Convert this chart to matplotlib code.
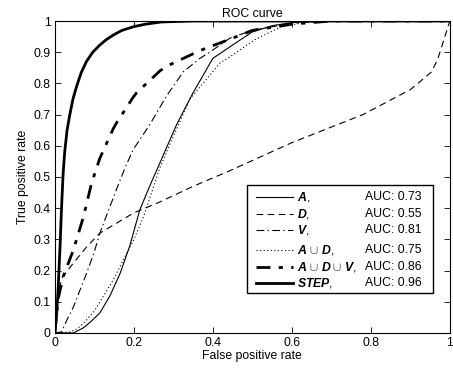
import matplotlib
matplotlib.use('Agg')
from matplotlib import pyplot as plt
from matplotlib.patches import Rectangle

plt.rcParams['font.family'] = ['Liberation Sans', 'DejaVu Sans']
plt.rcParams['mathtext.fontset'] = 'custom'
plt.rcParams['mathtext.rm'] = 'Liberation Sans'
plt.rcParams['mathtext.it'] = 'Liberation Sans:italic'
plt.rcParams['mathtext.bf'] = 'Liberation Sans:bold'
plt.rcParams['mathtext.bfit'] = 'Liberation Sans:italic:bold'

# ROC curves
a_x = [0, 0.03, 0.047, 0.072, 0.09, 0.114, 0.14, 0.165, 0.19, 0.215, 0.24, 0.266, 0.308, 0.35, 0.4, 0.443, 0.5, 0.55, 0.6, 0.7, 1]
a_y = [0, 0, 0.0, 0.016, 0.035, 0.064, 0.12, 0.19, 0.28, 0.394, 0.47, 0.545, 0.667, 0.77, 0.88, 0.917, 0.965, 0.985, 0.995, 1, 1]

d_x = [0, 0.004, 0.01, 0.02, 0.047, 0.08, 0.114, 0.2, 0.266, 0.35, 0.443, 0.6, 0.78, 0.9, 0.954, 0.97, 1]
d_y = [0, 0.08, 0.14, 0.18, 0.224, 0.275, 0.32, 0.385, 0.42, 0.47, 0.52, 0.61, 0.70, 0.78, 0.837, 0.88, 1]

v_x = [0, 0.017, 0.03, 0.047, 0.063, 0.08, 0.1, 0.114, 0.135, 0.156, 0.178, 0.198, 0.24, 0.283, 0.325, 0.367, 0.392, 0.443, 0.5, 0.6, 0.7, 1]
v_y = [0, 0.003, 0.04, 0.083, 0.135, 0.19, 0.26, 0.32, 0.39, 0.46, 0.53, 0.587, 0.667, 0.76, 0.837, 0.88, 0.90, 0.945, 0.97, 0.993, 1, 1]

ad_x = [0, 0.038, 0.055, 0.072, 0.1, 0.122, 0.148, 0.173, 0.2, 0.224, 0.266, 0.3, 0.342, 0.418, 0.443, 0.506, 0.57, 0.65, 1]
ad_y = [0, 0.003, 0.012, 0.03, 0.07, 0.116, 0.17, 0.233, 0.3, 0.37, 0.53, 0.63, 0.75, 0.865, 0.885, 0.94, 0.98, 1, 1]

adv_x = [0, 0.003, 0.008, 0.021, 0.047, 0.072, 0.093, 0.114, 0.148, 0.156, 0.198, 0.207, 0.266, 0.283, 0.367, 0.45, 0.5, 0.6, 0.7, 1]
adv_y = [0, 0.04, 0.106, 0.18, 0.266, 0.37, 0.48, 0.56, 0.655, 0.673, 0.755, 0.77, 0.84, 0.855, 0.905, 0.945, 0.97, 0.99, 1, 1]

step_x = [0, 0.004, 0.008, 0.013, 0.017, 0.021, 0.025, 0.031, 0.038, 0.046, 0.055, 0.067, 0.08, 0.096, 0.114, 0.13, 0.148, 0.17, 0.2, 0.23, 0.27, 0.35, 0.5, 1]
step_y = [0, 0.05, 0.13, 0.27, 0.4, 0.51, 0.58, 0.65, 0.70, 0.75, 0.79, 0.835, 0.87, 0.9, 0.923, 0.94, 0.955, 0.97, 0.982, 0.99, 0.997, 1, 1, 1]

names = [r'$\mathbfit{A}$,', r'$\mathbfit{D}$,', r'$\mathbfit{V}$,',
         r'$\mathbfit{A}\,\cup\,\mathbfit{D}$,',
         r'$\mathbfit{A}\,\cup\,\mathbfit{D}\cup\,\mathbfit{V}$,',
         r'$\mathbfit{STEP}$,']
auc = [0.73, 0.55, 0.81, 0.75, 0.86, 0.96]

curves = [(a_x, a_y), (d_x, d_y), (v_x, v_y), (ad_x, ad_y), (adv_x, adv_y), (step_x, step_y)]
styles = [dict(ls='-', lw=0.8),
          dict(ls=(0, (6, 4)), lw=0.8),
          dict(ls=(0, (7, 3, 1.2, 3)), lw=0.8),
          dict(ls=(0, (1, 2.2)), lw=0.8),
          dict(ls=(0, (5, 3, 1.5, 3)), lw=2.0),
          dict(ls='-', lw=2.0)]

fig = plt.figure(figsize=(4.53, 3.72), dpi=100)
ax = fig.add_axes([0.121, 0.105, 0.872, 0.8385])

for (x, y), st in zip(curves, styles):
    ax.plot(x, y, color='black', **st)

ax.set_xlim(0, 1)
ax.set_ylim(0, 1)
ax.set_xticks([0, 0.2, 0.4, 0.6, 0.8, 1])
ax.set_xticklabels(['0', '0.2', '0.4', '0.6', '0.8', '1'])
ax.set_yticks([i / 10 for i in range(11)])
ax.set_yticklabels(['0'] + ['%.1f' % (i / 10) for i in range(1, 10)] + ['1'])
ax.tick_params(direction='in', top=True, right=True, length=4, width=0.6, labelsize=8.8, pad=3)
for s in ax.spines.values():
    s.set_linewidth(0.8)
ax.set_title('ROC curve', fontsize=8.8, pad=3)
ax.set_xlabel('False positive rate', fontsize=8.8, labelpad=1)
ax.set_ylabel('True positive rate', fontsize=8.8, labelpad=3)

# legend drawn by hand to get the AUC column
ax.add_patch(Rectangle((0.486, 0.128), 0.471, 0.346, transform=ax.transAxes,
                       facecolor='white', edgecolor='black', lw=1.0, zorder=5))
rows = [0.436, 0.381, 0.330, 0.266, 0.212, 0.160]
for yy, st, nm, au in zip(rows, styles, names, auc):
    ax.plot([0.509, 0.603], [yy, yy], color='black', transform=ax.transAxes,
            clip_on=False, zorder=6, **st)
    ax.text(0.612, yy, nm, transform=ax.transAxes, fontsize=8.8, va='center', zorder=6)
    ax.text(0.785, yy, 'AUC: %.2f' % au, transform=ax.transAxes, fontsize=8.8, va='center', zorder=6)

fig.savefig('out.png', dpi=100)
